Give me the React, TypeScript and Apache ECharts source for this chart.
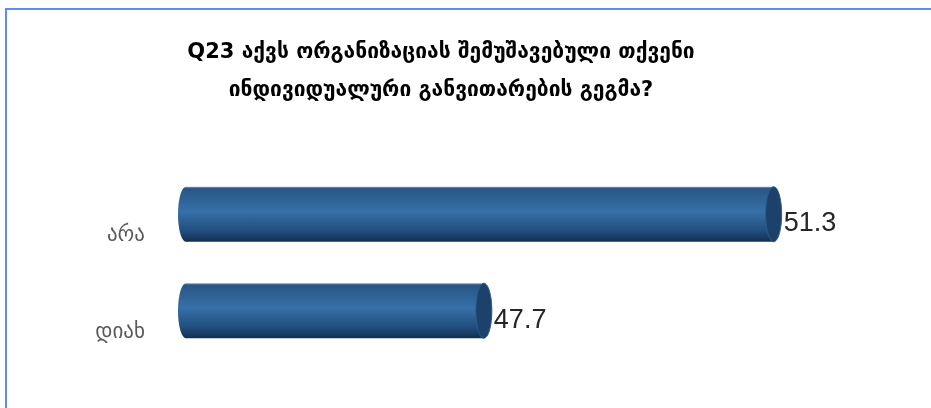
import React, { useEffect, useRef } from "react";
import * as echarts from "echarts";

const categories = ["არა", "დიახ"];
const values = [51.3, 47.7];
const titleLines = ["Q23 აქვს ორგანიზაციას შემუშავებული თქვენი", "ინდივიდუალური განვითარების გეგმა?"];
const axisMin = 44;
const axisMax = 52;

export default function App() {
  const ref = useRef<HTMLDivElement>(null);
  useEffect(() => {
    if (!ref.current) return;
    const chart = echarts.init(ref.current, null, { renderer: "svg" });
    const font = "'DejaVu Sans', 'Noto Sans', sans-serif";
    const bodyGrad = new echarts.graphic.LinearGradient(0, 0, 0, 1, [
      { offset: 0, color: "#8fa6c2" },
      { offset: 0.03, color: "#285685" },
      { offset: 0.45, color: "#3670a8" },
      { offset: 0.8, color: "#214e7e" },
      { offset: 1, color: "#142f4e" },
    ]);
    const option: any = {
      animation: false,
      graphic: [
        {
          type: "rect",
          shape: { x: 6, y: 9, width: 1000, height: 1000 },
          style: { fill: "none", stroke: "#5b8ef0", lineWidth: 2 },
          silent: true,
        },
        {
          type: "text",
          x: 441,
          y: 32,
          style: {
            text: titleLines.join("\n"),
            align: "center",
            verticalAlign: "top",
            font: `bold 21px ${font}`,
            lineHeight: 38,
            fill: "#000",
          },
        },
      ],
      grid: { left: 186, right: 101, top: 166, bottom: 49 },
      xAxis: {
        type: "value",
        min: axisMin,
        max: axisMax,
        show: false,
      },
      yAxis: {
        type: "category",
        data: categories,
        inverse: true,
        axisLine: { show: false },
        axisTick: { show: false },
        axisLabel: { show: false },
      },
      series: [
        {
          type: "custom",
          data: values.map((v, i) => [v, i]),
          encode: { x: 0, y: 1 },
          renderItem: (params: any, api: any) => {
            const v = api.value(0);
            const idx = api.value(1);
            const start = api.coord([axisMin, idx]);
            const end = api.coord([v, idx]);
            const band = api.size([0, 1])[1];
            const h = band * 0.57;
            const rx = 8;
            const y0 = start[1] - h / 2;
            return {
              type: "group",
              children: [
                {
                  type: "ellipse",
                  shape: { cx: start[0], cy: start[1], rx, ry: h / 2 },
                  style: { fill: bodyGrad },
                },
                {
                  type: "rect",
                  shape: { x: start[0], y: y0, width: end[0] - start[0], height: h },
                  style: { fill: bodyGrad },
                },
                {
                  type: "ellipse",
                  shape: { cx: end[0], cy: end[1], rx, ry: h / 2 },
                  style: { fill: "#1c416a", stroke: "#2c5a8c", lineWidth: 1 },
                },
                {
                  type: "text",
                  x: end[0] + rx + 2,
                  y: end[1] + 8,
                  style: {
                    text: String(v),
                    font: `27px 'Liberation Sans', 'DejaVu Sans', sans-serif`,
                    fill: "#262626",
                    align: "left",
                    verticalAlign: "middle",
                  },
                },
                {
                  type: "text",
                  x: start[0] - 41,
                  y: start[1] + 20,
                  style: {
                    text: categories[idx],
                    font: `21px ${font}`,
                    fill: "#595959",
                    align: "right",
                    verticalAlign: "middle",
                  },
                },
              ],
            };
          },
        },
      ],
    };
    chart.setOption(option);
    return () => chart.dispose();
  }, []);
  return (
    <div
      ref={ref}
      style={{ position: "fixed", left: 0, top: 0, width: 931, height: 408 }}
    />
  );
}
